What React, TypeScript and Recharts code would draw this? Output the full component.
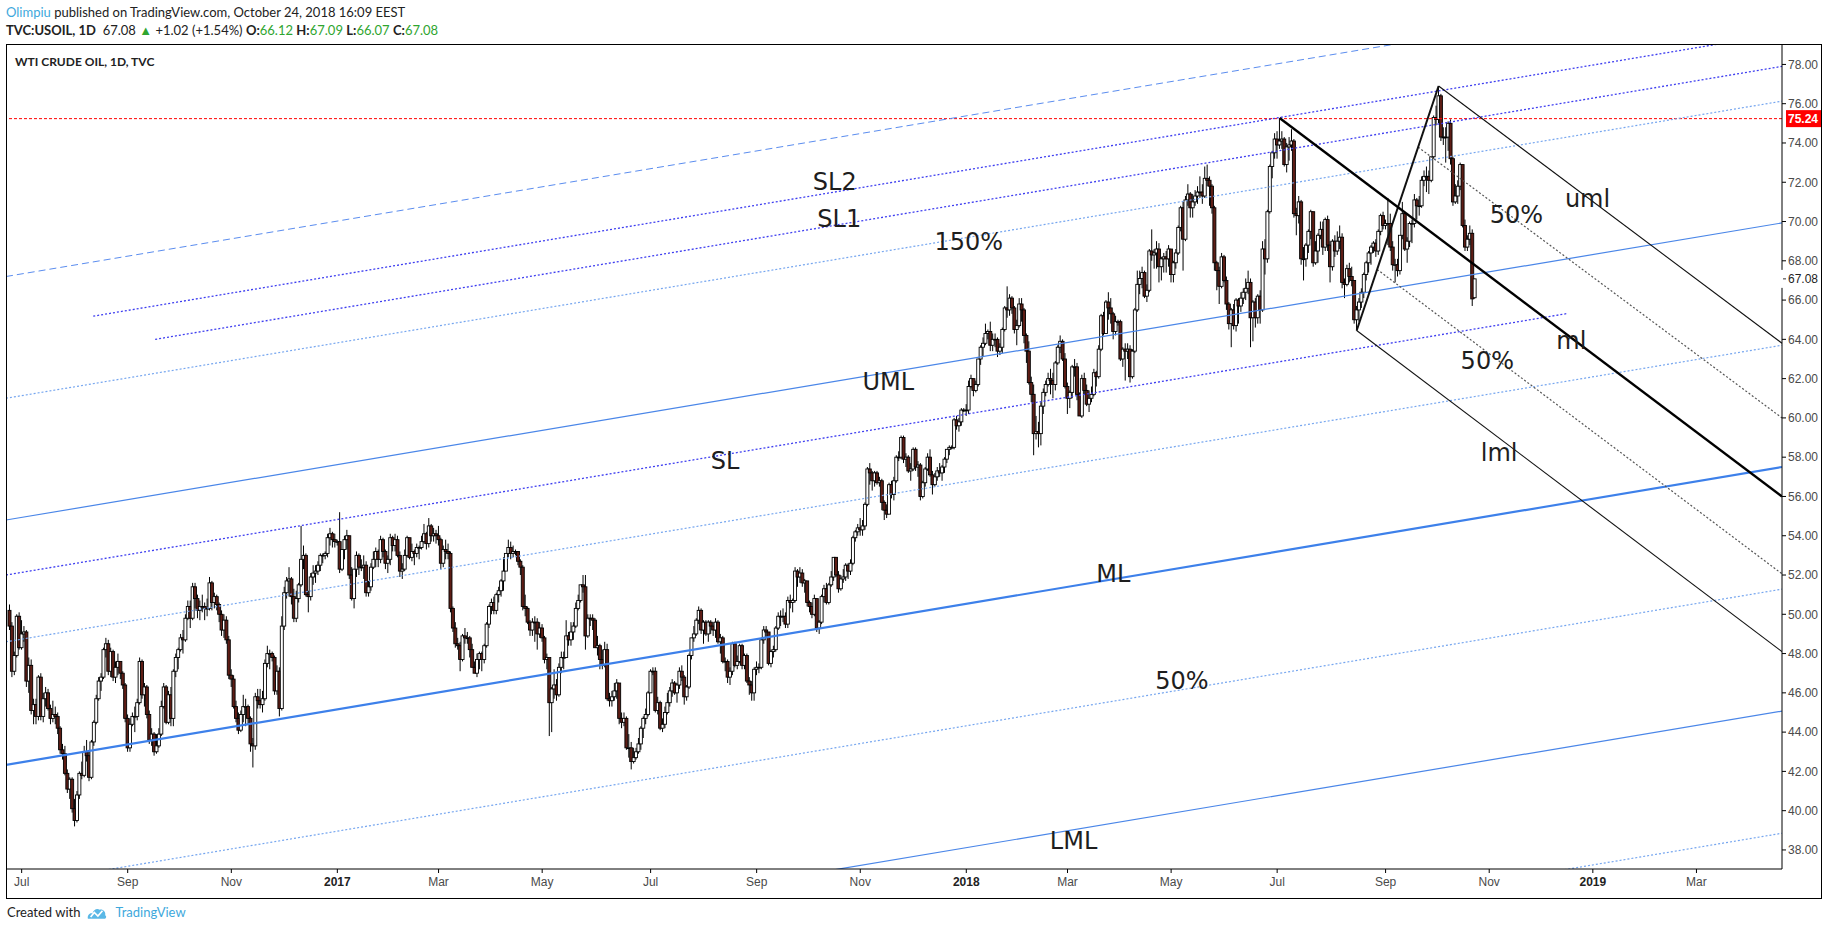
import React from 'react';
import { ComposedChart, Bar, XAxis, YAxis, ReferenceLine, ReferenceDot } from 'recharts';

type OHLC = [number, number, number, number];

// daily candles [open, high, low, close], first bar = Jun 24 2016 (bar index -5)
const bars2016: OHLC[] = [
  [50.2,50.5,49.2,49.4],[49.4,49.6,46.8,47.1],[47.1,48.1,46.9,47.9],[47.9,50.0,47.8,49.9],[49.9,50.1,48.2,48.3],[48.3,49.7,48.2,49.0],
  [49.0,49.4,48.6,49.1],[49.1,49.2,46.3,46.6],[46.6,47.8,46.0,47.4],[47.4,47.7,44.9,45.1],[45.1,45.7,44.4,45.4],
  [45.4,45.7,44.4,44.8],[44.8,46.9,44.6,46.8],[46.8,47.0,44.6,44.8],[44.8,46.0,44.5,45.7],[45.7,46.3,45.3,46.0],
  [46.0,46.2,45.1,45.2],[45.2,45.4,44.4,44.7],[44.7,45.6,44.5,44.9],[44.9,45.3,44.4,44.8],[44.8,45.0,43.9,44.2],
  [44.2,44.3,42.9,43.1],[43.1,43.4,42.6,42.9],[42.9,43.3,41.8,41.9],[41.9,42.1,40.9,41.1],[41.1,41.7,40.6,41.6],
  [41.6,41.7,39.9,40.1],[40.1,40.6,39.2,39.5],[39.5,41.0,39.4,40.8],[40.8,42.0,40.6,41.9],[41.9,42.5,41.6,41.8],
  [41.8,43.3,41.7,43.0],[43.0,43.6,42.5,42.8],[42.8,43.0,41.5,41.7],[41.7,43.6,41.6,43.5],[43.5,44.6,43.3,44.5],
  [44.5,45.9,44.4,45.7],[45.7,46.8,45.6,46.6],[46.6,47.0,46.1,46.8],[46.8,48.3,46.7,48.2],[48.2,48.8,47.8,48.5],
  [48.5,48.7,46.9,47.1],[47.1,48.3,46.8,48.1],[48.1,48.2,46.6,46.8],[46.8,47.6,46.5,47.3],[47.3,48.0,46.9,47.6],
  [47.6,47.6,46.7,47.0],[47.0,47.1,46.2,46.4],[46.4,46.5,44.5,44.7],[44.7,44.9,43.0,43.2],[43.2,44.7,43.0,44.4],
  [44.4,45.0,44.3,44.8],[44.8,45.3,44.0,44.8],[44.8,45.7,44.6,45.5],[45.5,47.8,45.4,47.6],[47.6,47.7,45.7,45.9],
  [45.9,46.5,45.3,46.3],[46.3,46.4,44.7,44.9],[44.9,45.1,43.4,43.6],[43.6,44.2,43.3,43.9],[43.9,44.0,42.8,43.0],
  [43.0,43.9,42.9,43.3],[43.3,44.2,43.2,43.9],[43.9,45.6,43.8,45.3],[45.3,46.5,45.2,46.3],[46.3,46.4,44.4,44.5],
  [44.5,46.1,44.4,45.9],[45.9,46.3,44.3,44.7],[44.7,47.2,44.3,47.1],[47.1,48.0,46.8,47.8],[47.8,48.3,47.2,48.2],
  [48.2,49.0,48.1,48.8],[48.8,49.2,48.0,48.7],[48.7,50.0,48.6,49.8],[49.8,50.7,49.7,50.4],[50.4,50.7,49.3,49.8],
  [49.8,51.6,49.7,51.4],[51.4,51.6,50.3,50.8],[50.8,51.0,49.8,50.2],[50.2,50.7,49.7,50.4],[50.4,51.0,50.1,50.4],
  [50.4,50.6,49.7,50.3],[50.3,50.8,49.9,50.3],[50.3,51.9,50.2,51.6],[51.6,51.7,50.2,50.6],[50.6,51.1,50.3,50.9],
  [50.9,51.0,50.2,50.5],[50.5,50.6,49.6,50.0],[50.0,50.2,48.9,49.2],[49.2,50.0,48.8,49.7],[49.7,49.9,48.5,48.7],
  [48.7,48.9,46.7,46.9],[46.9,47.2,46.3,46.7],[46.7,46.9,45.2,45.3],[45.3,45.6,44.5,44.7],[44.7,45.0,43.9,44.1],
  [44.1,45.1,44.0,44.9],[44.9,45.9,44.5,45.3],[45.3,45.7,44.3,45.3],[45.3,45.4,44.4,44.7],[44.7,44.8,43.0,43.4],
  [43.4,43.7,42.2,43.3],[43.3,46.0,43.1,45.8],[45.8,46.2,45.2,45.6],[45.6,46.2,45.2,45.4],[45.4,46.1,45.0,45.7],
  [45.7,47.7,45.6,47.5],[47.5,48.4,47.3,48.0],[48.0,48.2,47.2,48.0],[48.0,48.1,47.6,47.8],[47.8,47.9,45.9,46.1],
  [46.1,47.4,45.9,47.1],[47.1,47.3,44.8,45.2],[45.2,49.9,45.1,49.4],[49.4,51.4,49.2,51.1],[51.1,51.9,50.8,51.7],
  [51.7,52.4,50.9,51.8],[51.8,51.9,50.5,50.9],[50.9,51.3,49.6,49.8],[49.8,51.2,49.6,50.8],[50.8,51.6,50.6,51.5],
  [51.5,54.5,51.4,52.8],[52.8,53.5,52.3,53.0],[53.0,53.1,50.9,51.0],[51.0,51.2,50.1,50.9],[50.9,52.1,50.7,51.9],
  [51.9,52.5,51.5,52.1],[52.1,52.5,51.6,52.2],[52.2,52.7,52.0,52.5],[52.5,53.1,52.2,53.0],[53.0,53.1,52.6,53.0],
  [53.0,53.2,52.8,53.1],[53.1,54.1,52.9,53.9],[53.9,54.4,53.5,54.1],[54.1,54.2,53.4,53.8],[53.8,54.1,53.4,53.7],
];

const bars2017: OHLC[] = [
  [53.7,53.8,53.5,53.7],[53.7,55.2,52.1,52.3],[52.3,53.3,52.2,53.3],[53.3,54.0,52.8,53.8],[53.8,54.3,53.3,54.0],
  [54.0,54.0,51.8,52.0],[52.0,52.4,50.7,50.8],[50.8,52.3,50.3,52.3],[52.3,53.2,51.9,53.0],[53.0,53.1,52.0,52.4],
  [52.4,52.8,52.2,52.4],[52.4,53.0,51.8,52.5],[52.5,52.7,50.9,51.1],[51.1,51.7,50.9,51.4],[51.4,52.6,51.2,52.4],
  [52.4,53.2,52.3,52.8],[52.8,53.4,52.4,53.2],[53.2,53.3,52.4,52.8],[52.8,54.0,52.6,53.8],[53.8,53.9,52.9,53.2],
  [53.2,53.3,52.3,52.6],[52.6,53.0,52.1,52.8],[52.8,54.1,52.5,53.9],[53.9,54.0,53.2,53.5],[53.5,54.1,53.2,53.8],
  [53.8,54.0,52.9,53.0],[53.0,53.2,51.9,52.2],[52.2,52.6,51.8,52.3],[52.3,53.3,52.2,53.0],[53.0,54.0,52.9,53.9],
  [53.9,53.9,52.8,52.9],[52.9,53.6,52.7,53.2],[53.2,53.3,52.5,53.1],[53.1,53.6,52.9,53.4],[53.4,53.5,52.8,53.4],
  [53.4,54.0,53.3,53.7],[53.7,54.6,53.6,54.1],[54.1,54.2,53.3,53.6],[53.6,54.9,53.4,54.5],[54.5,54.6,53.7,54.0],
  [54.0,54.4,53.7,54.1],[54.1,54.3,53.6,54.0],[54.0,54.5,53.5,53.8],[53.8,53.9,52.3,52.6],[52.6,53.5,52.4,53.3],
  [53.3,53.8,52.8,53.2],[53.2,53.6,52.8,53.1],[53.1,53.2,50.1,50.3],[50.3,50.4,49.1,49.3],[49.3,49.6,48.3,48.5],
  [48.5,48.8,48.2,48.4],[48.4,48.6,47.1,47.7],[47.7,49.0,47.6,48.9],[48.9,49.3,48.5,48.8],[48.8,49.1,48.5,48.8],
  [48.8,48.9,47.8,48.2],[48.2,48.5,47.3,47.3],[47.3,47.6,47.0,47.0],[47.0,48.0,46.8,47.7],[47.7,48.1,47.2,48.0],
  [48.0,48.1,47.1,47.7],[47.7,48.5,47.5,48.4],[48.4,49.6,48.3,49.5],[49.5,50.5,49.3,50.4],[50.4,50.8,50.0,50.6],
  [50.6,50.9,50.0,50.2],[50.2,51.1,50.0,51.0],[51.0,51.4,50.6,51.2],[51.2,51.8,50.9,51.7],[51.7,52.9,51.2,52.2],
  [52.2,53.1,52.2,53.1],[53.1,53.8,52.9,53.4],[53.4,53.7,52.8,53.1],[53.1,53.5,52.9,53.2],[53.2,53.3,53.0,53.2],
  [53.2,53.2,52.5,52.7],[52.7,52.8,52.0,52.4],[52.4,52.5,50.2,50.4],[50.4,51.0,49.9,50.3],[50.3,50.4,49.5,49.6],
  [49.6,49.7,48.9,49.2],[49.2,49.8,48.9,49.6],[49.6,49.9,48.6,49.6],[49.6,49.8,48.2,49.0],[49.0,49.6,48.8,49.3],
  [49.3,49.5,48.6,48.8],[48.8,48.9,47.5,47.7],[47.7,48.0,47.2,47.8],[47.8,47.8,43.8,45.5],[45.5,46.3,44.0,46.2],
  [46.2,47.2,45.7,46.4],[46.4,46.7,45.6,45.9],[45.9,47.5,45.8,47.3],[47.3,48.1,47.0,47.8],[47.8,48.1,47.2,47.8],
  [47.8,49.7,47.8,48.9],[48.9,49.1,48.4,48.7],[48.7,49.6,48.4,49.1],[49.1,49.6,48.7,49.4],[49.4,50.6,49.3,50.3],
  [50.3,51.0,50.2,50.7],[50.7,51.5,50.6,51.5],[51.5,52.0,51.1,51.4],[51.4,52.0,48.2,48.9],[48.9,50.0,48.8,49.8],
  [49.8,50.0,49.4,49.8],[49.8,50.0,49.2,49.7],[49.7,49.8,48.3,48.3],[48.3,48.9,47.9,48.4],[48.4,48.5,47.2,47.7],
  [47.7,48.2,47.2,47.4],[47.4,48.6,47.3,48.2],[48.2,48.5,45.6,45.7],[45.7,46.0,45.3,45.6],[45.6,46.1,45.3,45.8],
  [45.8,46.5,45.6,46.1],[46.1,46.7,45.7,46.5],[46.5,46.5,44.4,44.7],[44.7,45.0,44.2,44.5],[44.5,45.0,44.3,44.7],
  [44.7,44.8,43.1,43.2],[43.2,43.9,42.7,43.2],[43.2,43.5,42.1,42.5],[42.5,43.2,42.4,42.7],[42.7,43.2,42.6,43.0],
  [43.0,43.7,42.9,43.4],[43.4,44.3,43.1,44.2],[44.2,44.8,43.7,44.7],[44.7,45.2,44.4,44.9],[44.9,46.1,44.8,46.0],
  [46.0,47.2,46.0,47.1],[47.1,47.3,46.9,47.1],[47.1,47.3,45.0,45.1],[45.1,45.8,44.9,45.5],[45.5,45.6,44.1,44.2],
  [44.2,44.7,44.0,44.4],[44.4,45.3,44.2,45.0],[45.0,46.0,44.9,45.5],[45.5,46.3,45.3,46.1],[46.1,46.7,45.8,46.5],
  [46.5,46.6,45.9,46.0],[46.0,46.5,45.5,46.4],[46.4,47.3,46.2,47.1],[47.1,47.4,46.6,46.8],[46.8,46.9,45.4,45.8],
  [45.8,46.4,45.6,46.3],[46.3,48.0,46.2,47.9],[47.9,48.8,47.7,48.8],[48.8,49.4,48.6,49.0],[49.0,49.8,48.9,49.7],
  [49.7,50.4,49.5,50.2],[50.2,50.3,49.0,49.2],[49.2,49.7,48.5,49.6],[49.6,49.7,48.9,49.0],[49.0,49.7,48.6,49.6],
  [49.6,49.7,49.0,49.4],[49.4,49.6,48.9,49.2],[49.2,49.8,48.8,49.6],[49.6,49.7,48.5,48.6],[48.6,49.0,48.0,48.8],
  [48.8,48.9,47.5,47.6],[47.6,47.8,47.1,47.6],[47.6,47.7,46.5,46.8],[46.8,47.3,46.4,47.1],[47.1,48.6,46.9,48.5],
  [48.5,48.6,47.3,47.4],[47.4,47.9,47.2,47.6],[47.6,48.5,47.5,48.4],[48.4,48.5,47.2,47.4],[47.4,48.0,47.2,47.9],
  [47.9,48.0,46.5,46.6],[46.6,46.8,45.9,46.4],[46.4,46.6,45.6,46.0],[46.0,47.3,45.6,47.2],[47.2,47.6,46.9,47.3],
  [47.3,47.5,47.0,47.3],[47.3,48.8,47.2,48.7],[48.7,49.4,48.5,49.2],[49.2,49.4,48.8,49.1],[49.1,49.1,47.4,47.5],
  [47.5,48.2,47.3,48.1],[48.1,48.4,47.8,48.2],[48.2,49.4,48.1,49.3],[49.3,50.1,49.2,49.9],[49.9,50.2,49.4,49.9],
  [49.9,50.3,49.6,49.9],[49.9,50.1,49.3,49.5],[49.5,50.9,49.3,50.7],[50.7,51.0,50.3,50.6],[50.6,50.8,50.1,50.7],
  [50.7,52.4,50.6,52.2],[52.2,52.3,51.4,51.9],[51.9,52.4,51.6,52.1],[52.1,52.3,51.4,51.6],[51.6,51.8,51.1,51.7],
  [51.7,51.7,50.4,50.6],[50.6,50.7,50.1,50.4],[50.4,50.6,49.8,50.0],[50.0,51.0,49.9,50.8],[50.8,50.8,49.1,49.3],
  [49.3,49.7,49.0,49.6],[49.6,51.0,49.5,50.9],[50.9,51.5,50.6,51.3],[51.3,51.6,50.5,50.6],[50.6,51.6,50.5,51.5],
  [51.5,52.2,51.4,51.9],[51.9,52.9,51.7,52.9],[52.9,52.9,51.9,52.0],[52.0,52.2,51.1,51.3],[51.3,52.0,51.2,51.8],
  [51.8,52.3,51.6,51.9],[51.9,52.6,51.7,52.5],[52.5,52.6,51.8,52.2],[52.2,52.8,52.0,52.6],[52.6,54.0,52.5,53.9],
  [53.9,54.3,53.7,54.2],[54.2,54.6,54.0,54.4],[54.4,54.9,54.0,54.3],[54.3,54.8,54.0,54.5],[54.5,55.7,54.3,55.6],
  [55.6,57.5,55.5,57.4],[57.4,57.7,56.6,57.2],[57.2,57.3,56.3,56.8],[56.8,57.3,56.5,57.2],[57.2,57.3,56.6,56.7],
  [56.7,57.0,56.5,56.8],[56.8,56.9,55.3,55.7],[55.7,55.8,54.8,55.3],[55.3,55.6,54.9,55.1],[55.1,56.7,55.1,56.6],
  [56.6,56.8,55.9,56.1],[56.1,57.0,55.8,56.8],[56.8,58.1,56.7,58.0],[58.0,58.3,57.8,58.0],[58.0,59.1,57.9,59.0],
  [59.0,59.1,57.7,57.9],[57.9,58.2,57.5,58.0],[58.0,58.1,57.2,57.3],[57.3,57.7,56.8,57.4],[57.4,58.5,57.3,58.4],
  [58.4,58.5,57.3,57.5],[57.5,57.8,57.0,57.6],[57.6,57.7,55.8,56.0],[56.0,56.8,55.9,56.7],[56.7,57.5,56.5,57.4],
  [57.4,58.2,57.3,58.0],[58.0,58.4,57.0,57.1],[57.1,57.3,56.1,56.6],[56.6,57.2,56.5,57.0],[57.0,57.5,56.8,57.3],
  [57.3,57.7,57.0,57.2],[57.2,57.6,56.8,57.5],[57.5,58.0,57.2,57.9],[57.9,58.4,57.7,58.4],[58.4,58.6,58.1,58.5],
  [58.5,58.6,58.4,58.5],[58.5,60.0,58.4,59.9],[59.9,60.1,59.4,59.6],[59.6,60.0,59.3,59.8],[59.8,60.5,59.6,60.4],
];

const bars2018: OHLC[] = [
  [60.4,60.5,60.3,60.4],[60.4,60.7,60.1,60.4],[60.4,61.9,60.2,61.6],[61.6,62.2,61.5,62.0],[62.0,62.0,61.1,61.4],
  [61.4,61.9,61.3,61.7],[61.7,63.0,61.6,63.0],[63.0,63.7,62.7,63.6],[63.6,64.1,63.1,63.8],[63.8,64.8,63.7,64.3],
  [64.3,64.5,64.0,64.4],[64.4,64.9,63.4,63.7],[63.7,64.3,63.4,64.0],[64.0,64.3,63.6,64.0],[64.0,64.1,63.1,63.4],
  [63.4,63.8,63.2,63.6],[63.6,64.6,63.3,64.5],[64.5,65.7,64.4,65.6],[65.6,66.7,65.1,65.5],[65.5,66.3,65.2,66.1],
  [66.1,66.2,65.3,65.6],[65.6,65.7,64.3,64.5],[64.5,65.0,63.7,64.7],[64.7,66.1,64.6,65.8],[65.8,66.1,64.9,65.5],
  [65.5,65.6,63.8,64.2],[64.2,64.3,62.8,63.4],[63.4,63.9,61.7,61.8],[61.8,62.1,60.8,61.2],[61.2,61.7,58.1,59.2],
  [59.2,60.1,58.9,59.3],[59.3,59.8,58.5,59.2],[59.2,60.8,58.6,60.6],[60.6,61.5,60.2,61.3],[61.3,61.9,61.1,61.7],
  [61.7,62.3,61.6,62.0],[62.0,62.5,61.2,61.9],[61.9,62.3,61.0,61.7],[61.7,62.9,61.4,62.8],[62.8,63.7,62.7,63.6],
  [63.6,64.2,63.3,63.9],[63.9,64.0,62.9,63.0],[63.0,63.3,61.5,61.6],[61.6,61.8,60.2,61.0],[61.0,61.4,60.5,61.3],
  [61.3,62.7,61.0,62.6],[62.6,63.0,62.1,62.6],[62.6,62.8,60.9,61.2],[61.2,61.3,60.1,60.1],[60.1,62.2,60.0,62.0],
  [62.0,62.3,61.2,61.4],[61.4,61.7,60.6,60.7],[60.7,61.4,60.3,61.0],[61.0,61.6,60.8,61.2],[61.2,62.5,61.1,62.3],
  [62.3,62.4,61.6,62.1],[62.1,63.7,62.0,63.5],[63.5,65.3,63.4,65.2],[65.2,65.4,64.2,64.3],[64.3,66.0,64.3,65.9],
  [65.9,66.4,65.0,65.6],[65.6,66.1,64.8,65.3],[65.3,65.4,64.0,64.4],[64.4,65.2,64.2,64.9],[64.9,65.0,64.7,64.9],
  [64.9,65.0,62.9,63.0],[63.0,63.6,62.6,63.5],[63.5,63.8,61.9,63.4],[63.4,63.8,63.0,63.5],[63.5,63.7,61.8,62.1],
  [62.1,63.5,62.0,63.4],[63.4,65.6,63.3,65.5],[65.5,67.5,65.4,66.8],[66.8,67.5,66.3,67.1],[67.1,67.7,66.6,67.4],
  [67.4,67.5,66.1,66.2],[66.2,66.8,65.9,66.5],[66.5,68.6,66.4,68.5],[68.5,69.6,68.0,68.3],[68.3,68.6,67.6,68.4],
  [68.4,69.0,67.6,68.6],[68.6,68.9,66.9,67.7],[67.7,68.2,67.0,68.1],[68.1,68.4,67.4,68.2],[68.2,68.5,67.4,68.1],
  [68.1,68.8,67.7,68.6],[68.6,68.6,66.9,67.3],[67.3,68.0,66.9,67.9],[67.9,68.6,67.6,68.4],[68.4,69.8,68.3,69.7],
  [69.7,70.8,69.5,70.7],[70.7,71.0,67.5,69.1],[69.1,71.3,69.0,71.1],[71.1,71.9,70.8,71.4],[71.4,71.5,70.2,70.7],
  [70.7,71.4,70.2,71.0],[71.0,71.6,70.8,71.3],[71.3,71.8,70.9,71.5],[71.5,72.3,71.2,71.5],[71.5,71.9,70.9,71.3],
  [71.3,72.8,71.2,72.2],[72.2,72.9,71.8,72.1],[72.1,72.3,70.8,71.8],[71.8,71.9,70.4,70.7],[70.7,70.8,67.5,67.9],
  [67.9,68.0,66.5,67.5],[67.5,67.7,65.8,66.7],[66.7,68.4,66.6,68.2],[68.2,68.3,66.9,67.0],[67.0,67.2,65.5,65.8],
  [65.8,65.9,64.5,64.8],[64.8,65.6,63.6,65.5],[65.5,65.8,64.5,64.7],[64.7,66.1,64.4,66.0],[66.0,66.1,64.8,65.7],
  [65.7,66.4,65.4,66.1],[66.1,66.6,65.8,66.4],[66.4,67.1,66.0,66.6],[66.6,67.5,66.3,66.9],[66.9,67.1,63.6,65.1],
  [65.1,66.0,63.9,65.9],[65.9,66.1,64.6,65.1],[65.1,66.3,64.8,66.2],[66.2,66.5,64.8,65.5],[65.5,69.0,65.4,68.6],
  [68.6,69.1,67.3,68.1],[68.1,70.6,67.9,70.5],[70.5,72.9,70.4,72.8],[72.8,73.6,72.2,73.5],[73.5,74.5,73.2,74.2],
  [74.2,74.6,73.2,73.9],[73.9,75.27,73.7,74.1],[74.1,74.6,73.7,74.2],[74.2,74.3,72.8,72.9],[72.9,74.0,72.5,73.8],
  [73.8,74.3,73.1,73.9],[73.9,74.7,73.6,74.1],[74.1,74.2,70.2,70.4],[70.4,70.7,69.3,70.3],[70.3,71.3,69.9,71.0],
  [71.0,71.1,67.8,68.1],[68.1,68.7,67.0,68.1],[68.1,68.9,67.7,68.8],[68.8,69.6,68.4,69.5],[69.5,70.6,69.1,70.5],
  [70.5,70.5,67.7,67.9],[67.9,69.0,67.8,68.5],[68.5,69.4,67.9,69.3],[69.3,70.0,69.1,69.6],[69.6,70.0,68.3,68.7],
  [68.7,70.2,68.5,70.1],[70.1,70.3,68.5,68.8],[68.8,69.0,66.9,67.7],[67.7,69.1,67.5,69.0],[69.0,69.3,68.2,68.5],
  [68.5,69.5,68.3,69.0],[69.0,69.8,68.6,69.2],[69.2,69.4,66.6,66.9],[66.9,67.1,66.1,66.8],[66.8,67.8,66.7,67.6],
  [67.6,67.9,66.9,67.2],[67.2,67.7,66.7,67.0],[67.0,67.0,64.8,65.0],[65.0,65.7,64.45,65.5],[65.5,66.1,64.9,65.9],
  [65.9,66.6,65.6,66.4],[66.4,67.4,66.1,67.3],[67.3,68.0,67.0,67.9],[67.9,68.5,67.4,68.4],[68.4,68.8,67.8,68.7],
  [68.7,69.0,68.4,68.9],[68.9,69.1,68.2,68.5],[68.5,69.6,68.3,69.5],[69.5,70.4,69.3,70.3],[70.3,70.5,69.6,69.8],
  [69.8,70.1,69.6,69.9],[69.9,71.2,68.8,69.9],[69.9,70.4,68.5,68.7],[68.7,69.0,67.5,67.8],[67.8,68.1,66.9,67.8],
  [67.8,68.1,67.2,67.5],[67.5,69.3,67.3,69.3],[69.3,71.0,69.1,70.4],[70.4,70.5,68.5,68.6],[68.6,69.2,67.9,69.0],
  [69.0,70.0,68.7,69.9],[69.9,70.1,68.9,69.9],[69.9,71.4,69.7,71.1],[71.1,71.2,70.1,70.8],[70.8,71.3,70.3,70.8],
  [70.8,72.3,70.7,72.1],[72.1,72.6,71.8,72.3],[72.3,72.8,71.5,72.3],[72.3,72.6,71.4,72.1],[72.1,73.3,72.0,73.3],
  [73.3,75.4,73.2,75.3],[75.3,75.9,74.9,75.2],[75.2,76.9,75.0,76.4],[76.4,76.5,74.1,74.3],[74.3,74.8,73.9,74.3],
  [74.3,74.8,73.0,74.3],[74.3,75.1,73.6,75.0],[75.0,75.2,72.9,73.2],[73.2,73.3,70.8,71.0],[71.0,71.9,70.9,71.3],
  [71.3,72.1,70.9,71.8],[71.8,73.0,71.6,72.9],[72.9,72.9,69.7,69.8],[69.8,70.1,68.5,68.7],[68.7,69.3,68.5,69.1],
  [69.1,69.8,68.8,69.4],[69.4,69.6,65.7,66.06],[66.12,67.09,66.07,67.08],
];

const FIRST_BAR_INDEX = -5;

// x axis: bar index of first trading day of each month
const monthTickIndex = [0, 44, 87, 131, 173, 216, 261, 305, 348, 392, 434, 477, 521, 566, 609, 652, 695];
const monthTickLabels = ['Jul', 'Sep', 'Nov', '2017', 'Mar', 'May', 'Jul', 'Sep', 'Nov', '2018', 'Mar', 'May', 'Jul', 'Sep', 'Nov', '2019', 'Mar'];
const priceTicks = [38, 40, 42, 44, 46, 48, 50, 52, 54, 56, 58, 60, 62, 64, 66, 68, 70, 72, 74, 76, 78];

const xDomain = [-6.5, 730.5];
const yDomain = [37.03, 79.04];

const horizontalLevel = 75.24;
const lastPrice = 67.08;

// schiff-style channel lines [barIndex1, price1, barIndex2, price2]
const mlLine = [-6.5, 42.33, 730.5, 57.5];
const umlLine = [-6.5, 54.8, 730.5, 69.93];
const lmlLine = [-6.5, 29.93, 730.5, 45.07];
const channelHalfLines = [
  [-6.5, 23.7, 730.5, 38.85],
  [-6.5, 36.13, 730.5, 51.28],
  [-6.5, 48.6, 730.5, 63.7],
  [-6.5, 61.0, 730.5, 76.13],
];
const channelDashedLine = [-6.5, 67.2, 730.5, 82.33];
const slLines = [
  [-6.5, 52.0, 641.6, 65.32],
  [55.4, 64.0, 730.5, 77.9],
  [29.7, 65.18, 730.5, 79.58],
];

// Andrews pitchfork on the 2018 swings
const pfMedian = [522, 75.27, 730.5, 56.0];
const pfHandle = [554, 64.45, 588, 76.9];
const pfTines = [
  [588, 76.9, 730.5, 63.8],
  [554, 64.45, 730.5, 48.1],
];
const pfHalfTines = [
  [579.5, 73.79, 730.5, 60.0],
  [562.5, 67.56, 730.5, 52.06],
];

const chartLabels: { text: string; i: number; p: number }[] = [
  { text: 'SL2', i: 337.4, p: 72.07 },
  { text: 'SL1', i: 339.3, p: 70.17 },
  { text: '150%', i: 393.0, p: 68.98 },
  { text: 'UML', i: 359.6, p: 61.86 },
  { text: 'SL', i: 291.9, p: 57.82 },
  { text: 'ML', i: 453.0, p: 52.07 },
  { text: '50%', i: 481.5, p: 46.66 },
  { text: 'LML', i: 436.5, p: 38.47 },
  { text: '50%', i: 620.3, p: 70.34 },
  { text: 'uml', i: 649.8, p: 71.17 },
  { text: 'ml', i: 643.1, p: 63.93 },
  { text: '50%', i: 608.2, p: 62.93 },
  { text: 'lml', i: 613.1, p: 58.24 },
];

const candles = [...bars2016, ...bars2017, ...bars2018].map((b, k) => ({
  i: FIRST_BAR_INDEX + k,
  o: b[0],
  h: b[1],
  l: b[2],
  c: b[3],
  range: [b[2], b[1]],
}));

const Candle = (props: any) => {
  const { x, y, width, height, payload } = props;
  if (x == null || y == null || !payload) return null;
  const { o, h, l, c } = payload;
  const top = Math.min(y, y + height);
  const bot = Math.max(y, y + height);
  const k = (bot - top) / (h - l || 1);
  const cx = x + width / 2;
  const yo = top + (h - o) * k;
  const yc = top + (h - c) * k;
  const up = c >= o;
  const bt = Math.min(yo, yc);
  const bh = Math.max(Math.abs(yc - yo), 0.8);
  return (
    <g>
      <line x1={cx} x2={cx} y1={top} y2={bot} stroke="#000" strokeWidth={1} />
      <rect x={cx - 1.5} y={bt} width={3} height={bh} fill={up ? '#ffffff' : '#5e1d15'} stroke="#000" strokeWidth={0.9} />
    </g>
  );
};

const XTick = (props: any) => {
  const { x, y, payload } = props;
  const idx = monthTickIndex.indexOf(payload.value);
  const label = monthTickLabels[idx] ?? '';
  const isYear = /^\d{4}$/.test(label);
  return (
    <text x={x} y={y} dy={11} textAnchor="middle" fontFamily="Liberation Sans, Arial, sans-serif" fontSize={12}
      fontWeight={isYear ? 700 : 400} fill={isYear ? '#222' : '#4a4a4a'}>
      {label}
    </text>
  );
};

const seg = (a: number[]) => [{ x: a[0], y: a[1] }, { x: a[2], y: a[3] }] as any;

const Logo = () => (
  <svg width="20" height="15" viewBox="0 0 22 16" style={{ verticalAlign: 'middle', margin: '0 8px 0 7px' }}>
    <path d="M1 15 C0 11 3 8 6 9 C7 5 11 3 14 5 C17 4 21 7 20 11 C22 12 21 15 19 15 Z" fill="#5ab8e6" />
    <path d="M4 13 L8 8 L12 12 L17 6" fill="none" stroke="#ffffff" strokeWidth="1.8" />
  </svg>
);

const green = '#2fa52f';
const numStyle = { color: green };

export default function App() {
  const labelFont = 'DejaVu Sans, Verdana, sans-serif';
  return (
    <div style={{ position: 'absolute', left: 0, top: 0, width: 1828, height: 930, background: '#fff', overflow: 'hidden' }}>
      <style>{'body{margin:0;background:#fff}'}</style>
      <div style={{ position: 'absolute', left: 6, top: 3, fontFamily: 'Lato, sans-serif', fontSize: 13, lineHeight: '18px', color: '#222', whiteSpace: 'nowrap' }}>
        <span style={{ color: '#3ea8dc' }}>Olimpiu</span> published on TradingView.com, October 24, 2018 16:09 EEST
      </div>
      <div style={{ position: 'absolute', left: 6, top: 20.5, fontFamily: 'Lato, sans-serif', fontSize: 13, lineHeight: '18px', color: '#222', whiteSpace: 'nowrap' }}>
        <b>TVC:USOIL, 1D</b>&nbsp; 67.08 <span style={{ color: green, fontSize: 13 }}>▲</span> +1.02 (+1.54%){' '}
        <b>O:</b><span style={numStyle}>66.12</span> <b>H:</b><span style={numStyle}>67.09</span> <b>L:</b><span style={numStyle}>66.07</span> <b>C:</b><span style={numStyle}>67.08</span>
      </div>
      <div style={{ position: 'absolute', left: 0, top: 0 }}>
        <ComposedChart width={1828} height={930} data={candles} margin={{ top: 44, right: 7, bottom: 32, left: 6 }}>
          <XAxis
            dataKey="i"
            type="number"
            domain={xDomain}
            allowDataOverflow
            ticks={monthTickIndex}
            tick={<XTick />}
            tickSize={4}
            tickMargin={2}
            height={29}
            axisLine={{ stroke: '#000' }}
            tickLine={{ stroke: '#000' }}
            interval={0}
          />
          <YAxis
            orientation="right"
            type="number"
            domain={yDomain}
            allowDataOverflow
            ticks={priceTicks}
            tickFormatter={(v: number) => v.toFixed(2)}
            width={39}
            tickSize={4}
            tickMargin={2}
            axisLine={{ stroke: '#000' }}
            tickLine={{ stroke: '#000' }}
            tick={{ fontSize: 12, fill: '#4a4a4a', fontFamily: 'Liberation Sans, Arial, sans-serif' }}
            interval={0}
          />
          <Bar dataKey="range" shape={Candle} isAnimationActive={false} barSize={3} />

          <ReferenceLine y={horizontalLevel} stroke="#ff0000" strokeDasharray="3 2" strokeWidth={1} ifOverflow="hidden" />

          {channelHalfLines.map((a, k) => (
            <ReferenceLine key={'h' + k} segment={seg(a)} stroke="#76a6ef" strokeDasharray="2 2" strokeWidth={1.2} ifOverflow="hidden" />
          ))}
          <ReferenceLine segment={seg(channelDashedLine)} stroke="#5b8def" strokeDasharray="7 4" strokeWidth={1} ifOverflow="hidden" />
          {slLines.map((a, k) => (
            <ReferenceLine key={'s' + k} segment={seg(a)} stroke="#3f3ff0" strokeDasharray="2 2" strokeWidth={1.3} ifOverflow="hidden" />
          ))}
          <ReferenceLine segment={seg(umlLine)} stroke="#4a86e8" strokeWidth={1.2} ifOverflow="hidden" />
          <ReferenceLine segment={seg(lmlLine)} stroke="#4a86e8" strokeWidth={1.2} ifOverflow="hidden" />
          <ReferenceLine segment={seg(mlLine)} stroke="#3d80ea" strokeWidth={2.2} ifOverflow="hidden" />

          {pfHalfTines.map((a, k) => (
            <ReferenceLine key={'pt' + k} segment={seg(a)} stroke="#555" strokeDasharray="2 2" strokeWidth={1.2} ifOverflow="hidden" />
          ))}
          {pfTines.map((a, k) => (
            <ReferenceLine key={'t' + k} segment={seg(a)} stroke="#111" strokeWidth={1.1} ifOverflow="hidden" />
          ))}
          <ReferenceLine segment={seg(pfHandle)} stroke="#111" strokeWidth={2} ifOverflow="hidden" />
          <ReferenceLine segment={seg(pfMedian)} stroke="#000" strokeWidth={2.4} ifOverflow="hidden" />

          {chartLabels.map((lb, k) => (
            <ReferenceDot
              key={'l' + k}
              x={lb.i}
              y={lb.p}
              r={0}
              ifOverflow="visible"
              shape={(p: any) => (
                <text x={p.cx} y={p.cy} dy="0.36em" textAnchor="middle" fontFamily={labelFont} fontSize={24} fill="#1e1e1e">
                  {lb.text}
                </text>
              )}
            />
          ))}

          <ReferenceDot
            x={xDomain[1]}
            y={horizontalLevel}
            r={0}
            ifOverflow="visible"
            shape={(p: any) => (
              <g>
                <rect x={p.cx + 4} y={p.cy - 8.5} width={35} height={17} fill="#ff0000" />
                <text x={p.cx + 6} y={p.cy} dy="0.36em" fontFamily="Liberation Sans, Arial, sans-serif" fontSize={12} fontWeight={700} fill="#fff">
                  {horizontalLevel.toFixed(2)}
                </text>
              </g>
            )}
          />
          <ReferenceDot
            x={xDomain[1]}
            y={lastPrice}
            r={0}
            ifOverflow="visible"
            shape={(p: any) => (
              <g>
                <rect x={p.cx - 2} y={p.cy - 9} width={40} height={18} fill="#fff" />
                <line x1={p.cx + 1} x2={p.cx + 4} y1={p.cy} y2={p.cy} stroke="#333" />
                <text x={p.cx + 6} y={p.cy} dy="0.36em" fontFamily="Liberation Sans, Arial, sans-serif" fontSize={12} fill="#222">
                  {lastPrice.toFixed(2)}
                </text>
              </g>
            )}
          />
        </ComposedChart>
      </div>
      <div style={{ position: 'absolute', left: 15, top: 53, fontFamily: 'Lato, sans-serif', fontSize: 12, fontWeight: 700, lineHeight: '18px', color: '#222', whiteSpace: 'nowrap' }}>
        WTI CRUDE OIL, 1D, TVC
      </div>
      <div style={{ position: 'absolute', left: 6, top: 44, width: 1816, height: 855, border: '1px solid #000', boxSizing: 'border-box', pointerEvents: 'none' }} />
      <div style={{ position: 'absolute', left: 7, top: 903, fontFamily: 'Lato, sans-serif', fontSize: 13, lineHeight: '18px', color: '#222', whiteSpace: 'nowrap', display: 'flex', alignItems: 'center' }}>
        <span>Created with</span>
        <Logo />
        <span style={{ color: '#3ea8dc' }}>TradingView</span>
      </div>
    </div>
  );
}
